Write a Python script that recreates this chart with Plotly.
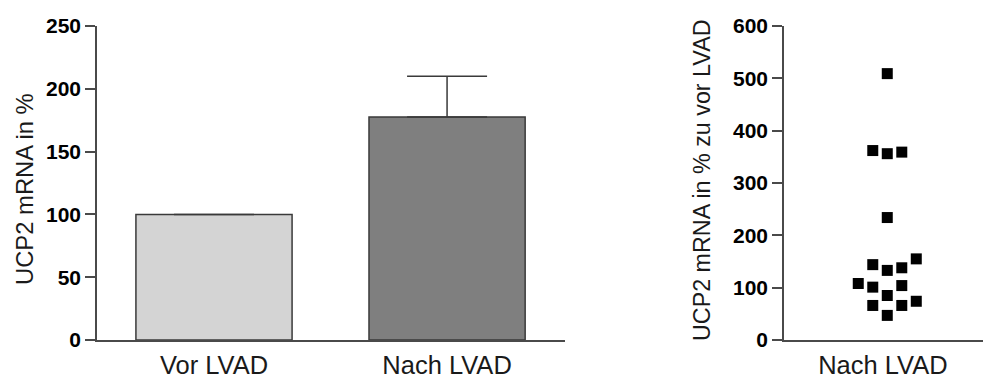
import plotly.graph_objects as go

# ---- data ----
bar_categories = ["Vor LVAD", "Nach LVAD"]
bar_values = [100, 177.5]
bar_errors_plus = [0, 32.5]
bar_colors = ["#d4d4d4", "#7f7f7f"]

scatter_category = "Nach LVAD"
scatter_values = [509, 362, 356, 359, 234, 144, 133, 138, 155, 108, 101, 85, 104, 66, 47, 66, 74]
scatter_columns = [0, -1, 0, 1, 0, -1, 0, 1, 2, -2, -1, 0, 1, -1, 0, 1, 2]

left_ticks = [0, 50, 100, 150, 200, 250]
right_ticks = [0, 100, 200, 300, 400, 500, 600]

left_title = "UCP2 mRNA in %"
right_title = "UCP2 mRNA in % zu vor LVAD"

FONT = "Liberation Sans, Arial, sans-serif"
AX = "#4a4a4a"

fig = go.Figure()

fig.add_trace(go.Bar(
    x=list(range(len(bar_categories))), y=bar_values,
    width=0.67,
    marker=dict(color=bar_colors, line=dict(color="#3a3a3a", width=1.5)),
    error_y=dict(type="data", symmetric=False, array=bar_errors_plus,
                 arrayminus=[0, 0], color="#3a3a3a", thickness=1.5, width=40),
    xaxis="x", yaxis="y", showlegend=False,
))

fig.add_trace(go.Scatter(
    x=scatter_columns, y=scatter_values, mode="markers",
    marker=dict(symbol="square", size=11, color="#000000"),
    xaxis="x2", yaxis="y2", showlegend=False,
))

tickfont = dict(family=FONT, size=21, color="#000000", weight="bold")
catfont = dict(family=FONT, size=25.5, color="#1a1a1a")

ydom = [40 / 380, 354 / 380]

common = dict(showline=True, linecolor=AX, linewidth=1.5, showgrid=False,
              zeroline=False, ticks="outside", automargin=False)

fig.update_layout(
    width=983, height=380,
    margin=dict(l=0, r=0, t=0, b=0),
    paper_bgcolor="white", plot_bgcolor="white",
    xaxis=dict(domain=[97 / 983, 565 / 983], range=[-0.502, 1.506],
               tickvals=[0, 1], ticktext=bar_categories, ticklen=2,
               tickcolor="rgba(0,0,0,0)", tickfont=catfont, anchor="y", **common),
    yaxis=dict(domain=ydom, range=[0, 250], tickvals=left_ticks, ticklen=10,
               tickcolor=AX, tickwidth=1.5, tickfont=tickfont, anchor="x", **common),
    xaxis2=dict(domain=[784 / 983, 1.0], range=[-7.12, 6.6],
                tickvals=[-0.3], ticktext=[scatter_category], ticklen=2,
                tickcolor="rgba(0,0,0,0)", tickfont=catfont, anchor="y2", **common),
    yaxis2=dict(domain=ydom, range=[0, 600], tickvals=right_ticks, ticklen=10,
                tickcolor=AX, tickwidth=1.5, tickfont=tickfont, anchor="x2", **common),
    annotations=[
        dict(text=left_title, textangle=-90, x=24 / 983, y=191 / 380,
             xref="paper", yref="paper", showarrow=False,
             xanchor="center", yanchor="middle",
             font=dict(family=FONT, size=23.8, color="#1a1a1a")),
        dict(text=right_title, textangle=-90, x=702 / 983, y=200 / 380,
             xref="paper", yref="paper", showarrow=False,
             xanchor="center", yanchor="middle",
             font=dict(family=FONT, size=23.3, color="#1a1a1a")),
    ],
)

fig.write_html("out.html")
